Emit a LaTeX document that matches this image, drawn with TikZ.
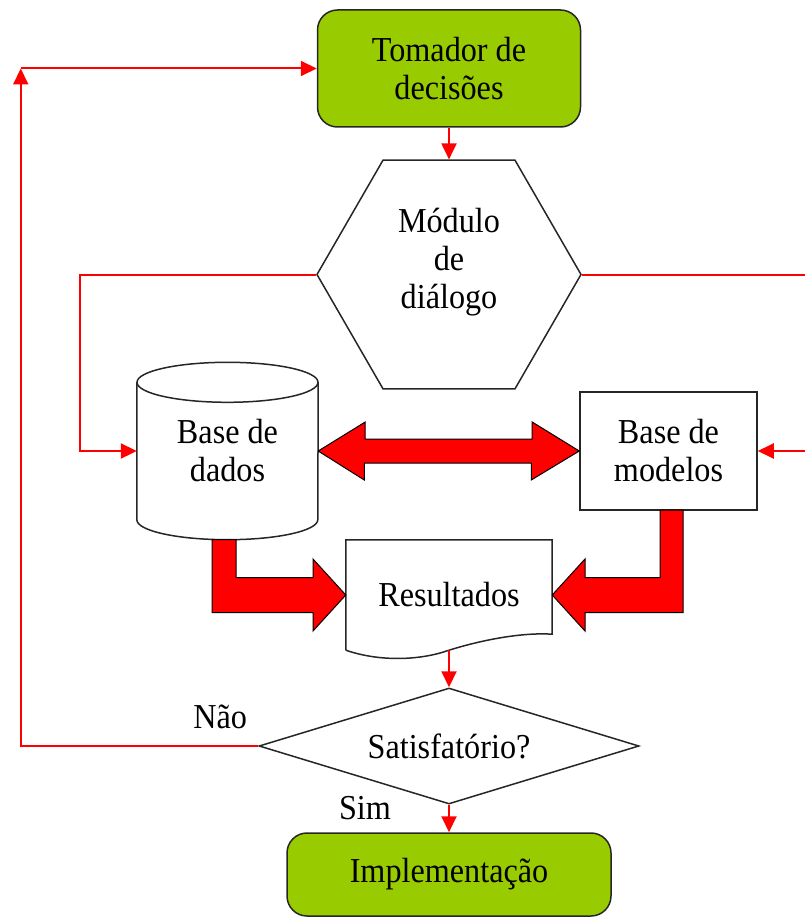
\documentclass[tikz,border=0pt]{standalone}
\usepackage{fontspec}
\setmainfont{Liberation Serif}[FakeStretch=0.92]
\usetikzlibrary{arrows.meta,shapes.geometric}
\definecolor{leafgreen}{RGB}{153,204,0}

\begin{document}
\begin{tikzpicture}[x=1pt,y=1pt,
  every node/.style={font=\fontsize{35}{38}\selectfont,align=center,inner sep=0pt},
  outline/.style={draw=black!85,line width=1.5pt},
  termbox/.style={outline,fill=leafgreen,rounded corners=20pt},
  hexa/.style={outline,regular polygon,regular polygon sides=6,minimum size=264pt},
  plainbox/.style={rectangle},
  ask/.style={outline,diamond,aspect=3.276,minimum width=380pt,minimum height=116pt},
  flow/.style={draw=red,line width=2pt,-{Triangle[length=16pt,width=15pt]}},
  fat/.style={fill=red,draw=black,line width=1pt,line join=miter}]
\useasboundingbox (0,0) rectangle (805,-920);
\node[termbox,minimum width=263pt,minimum height=117pt] (tom) at (449,-68.5) {Tomador de\\decisões};
\node[hexa] (mod) at (449,-274.5) {};
\node (modtxt) at (449,-262) {Módulo\\de\\diálogo};
\node[plainbox,minimum width=181pt,minimum height=177pt] (dados) at (227.5,-451) {Base de\\dados};
\node[plainbox,outline,minimum width=177pt,minimum height=118pt] (modelos) at (668.5,-451) {Base de\\modelos};
\node[plainbox,minimum width=206pt,minimum height=110pt] (res) at (449,-595) {Resultados};
\node[ask] (sat) at (449,-746) {Satisfatório?};
\node[termbox,minimum width=324pt,minimum height=83pt] (impl) at (449,-874.5) {Implementação};
\node (nao) at ([xshift=-38,yshift=29]sat.west) {Não};
\node (sim) at ([xshift=-84,yshift=-3]sat.south) {Sim};
\coordinate (loop) at ([xshift=-296]tom.west);

\draw[outline] ([yshift=-20]dados.north west) -- ([yshift=20]dados.south west) arc[start angle=180,end angle=360,x radius=90.5,y radius=20] -- ([yshift=-20]dados.north east);
\draw[outline] ([yshift=-20]dados.north) ellipse[x radius=90.5,y radius=20];
\draw[outline] (res.south west) -- (res.north west) -- (res.north east) -- ([yshift=16]res.south east) .. controls +(-31,2) and +(32,10) .. (res.south) .. controls +(-28,-10) and +(35,-12) .. (res.south west);

\draw[fat] (dados.east) -- ++(47,29) -- ++(0,-17) -- ++(167,0) -- ++(0,17) -- (modelos.west) -- ++(-48,-29) -- ++(0,17) -- ++(-167,0) -- ++(0,-17) -- cycle;
\draw[fat] (212,-539.5) -- (212,-612.5) -- (313,-612.5) -- (313,-631) -- (res.west) -- (313,-559) -- (313,-577.5) -- (236,-577.5) -- (236,-539.5) -- cycle;
\draw[fat] (683,-510) -- (683,-612.5) -- (585,-612.5) -- (585,-631) -- (res.east) -- (585,-559) -- (585,-577.5) -- (660,-577.5) -- (660,-510) -- cycle;

\draw[flow] (tom) -- (mod);
\draw[flow] (mod.west) -- ++(-236,0) |- (dados.west);
\draw[flow] (mod.east) -- ++(228,0) |- (modelos.east);
\draw[flow] (res.south) -- (sat.north);
\draw[flow] (sat.south) -- (impl.north);
\draw[flow] (sat.west) -| (loop);
\draw[flow] (loop) -- (tom.west);
\end{tikzpicture}
\end{document}
